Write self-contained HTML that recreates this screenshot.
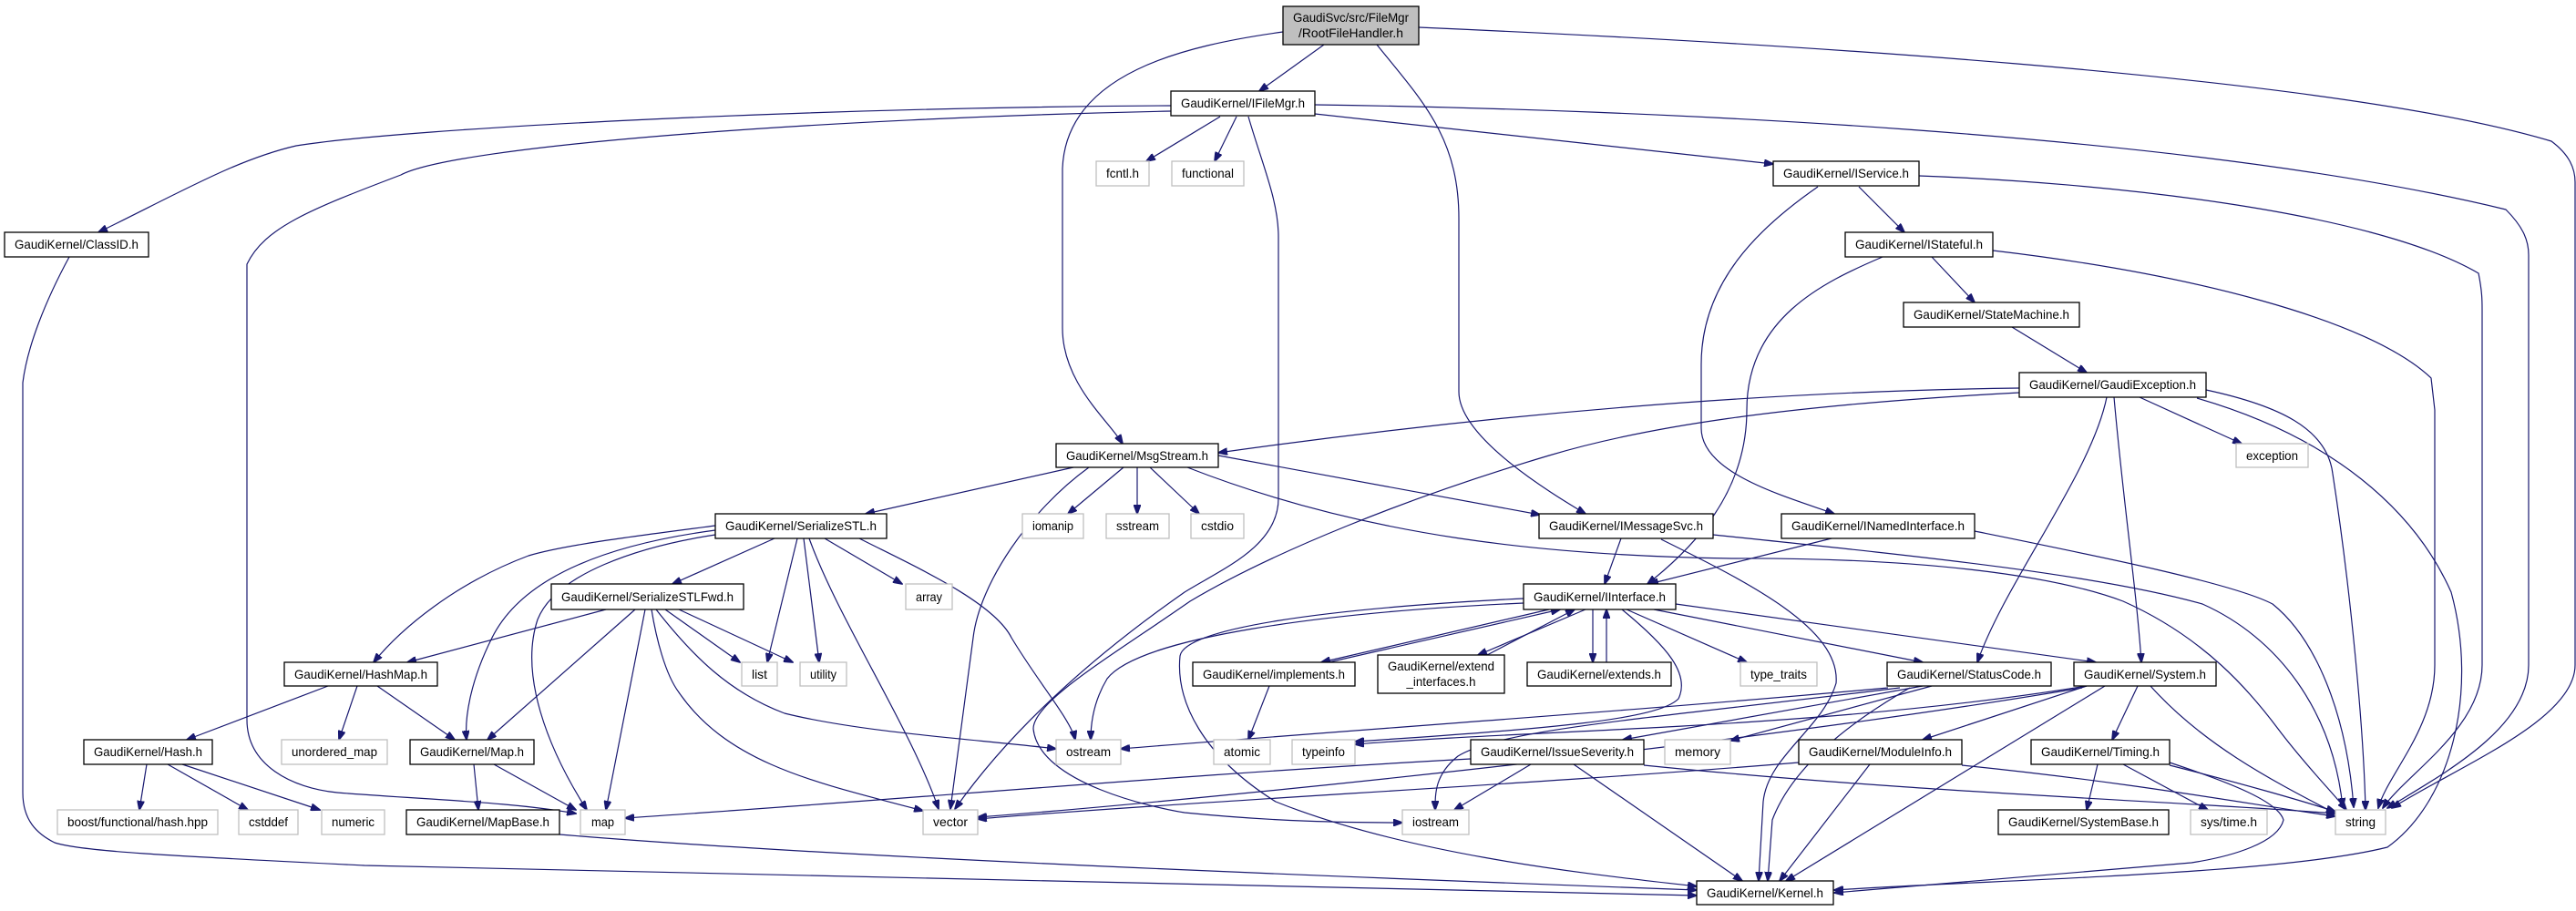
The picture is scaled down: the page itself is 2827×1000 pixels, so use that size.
<!DOCTYPE html>
<html><head><meta charset="utf-8"><style>
html,body{margin:0;padding:0;background:#fff;}
svg{display:block;}
text{font-family:"Liberation Sans",Arial,sans-serif;font-size:14px;fill:#000;}
.e{fill:none;stroke:#191970;stroke-width:1.2;marker-end:url(#a);}
.n{fill:#fff;stroke:#000;stroke-width:1.3;}
.g{fill:#fff;stroke:#bfbfbf;stroke-width:1.3;}
</style></head><body>
<svg width="2827" height="1000" viewBox="0 0 2827 1000" xmlns="http://www.w3.org/2000/svg">
<defs><marker id="a" markerUnits="userSpaceOnUse" markerWidth="11" markerHeight="8" refX="10" refY="4" orient="auto"><path d="M0,0 L11,4 L0,8 z" fill="#191970" stroke="#191970"/></marker></defs>
<g>
<path class="e" d="M1453,49 L1382,100"/>
<path class="e" d="M1408,35 C1300,50 1170,80 1166,185 L1166,360 C1166,420 1215,460 1232,487"/>
<path class="e" d="M1511,49 C1560,110 1601,150 1601,240 L1601,430 C1601,480 1700,540 1740,564"/>
<path class="e" d="M1557,30 C1900,45 2550,80 2800,155 C2820,170 2826,185 2826,200 L2826,730 C2826,790 2700,840 2625,887"/>
<path class="e" d="M1443,115 C1800,120 2400,145 2750,230 C2770,250 2775,265 2775,280 L2775,730 C2775,800 2680,850 2620,887"/>
<path class="e" d="M2106,193 C2300,200 2600,230 2720,300 C2724,320 2724,330 2724,340 L2724,730 C2724,800 2640,850 2615,887"/>
<path class="e" d="M2187,275 C2400,300 2600,350 2668,415 L2672,450 L2672,730 C2672,800 2620,850 2610,887"/>
<path class="e" d="M1285,116 C900,118 450,140 325,160 C260,175 200,210 108,255"/>
<path class="e" d="M1285,122 C900,130 500,160 440,192 C340,230 290,250 271,290 L271,790 C271,840 320,865 370,870 C470,878 560,880 632,893"/>
<path class="e" d="M1339,128 L1258,177"/>
<path class="e" d="M1357,128 L1333,177"/>
<path class="e" d="M1370,128 C1385,180 1403,220 1403,260 L1403,547 C1403,600 1340,625 1300,650 C1200,720 1110,800 1048,888"/>
<path class="e" d="M1443,125 L1946,180"/>
<path class="e" d="M2040,205 L2090,255"/>
<path class="e" d="M1995,205 C1930,250 1867,310 1867,400 L1867,470 C1867,520 1960,545 2013,564"/>
<path class="e" d="M2066,282 C2000,310 1917,350 1917,450 C1917,540 1860,600 1808,641"/>
<path class="e" d="M2120,282 L2167,332"/>
<path class="e" d="M2208,359 L2290,409"/>
<path class="e" d="M2216,426 C1900,430 1600,460 1337,497"/>
<path class="e" d="M2216,431 C1950,445 1800,470 1700,500 C1542,547 1395,607 1306,660 C1220,720 1134,770 1134,800 C1140,860 1268,887 1300,892 C1400,902 1480,903 1539,903"/>
<path class="e" d="M2348,436 L2460,487"/>
<path class="e" d="M2312,436 C2295,520 2200,640 2170,727"/>
<path class="e" d="M2320,436 C2330,550 2345,650 2350,727"/>
<path class="e" d="M2421,428 C2500,445 2554,470 2560,520 C2580,650 2594,800 2596,889"/>
<path class="e" d="M2411,437 C2560,480 2650,560 2690,650 C2720,760 2690,880 2620,930 C2500,960 2200,965 2013,977"/>
<path class="e" d="M1337,500 L1690,565"/>
<path class="e" d="M1303,513 C1500,590 1700,610 1900,613 C2100,612 2250,630 2330,660 C2420,700 2470,760 2500,800 C2530,840 2560,870 2575,889"/>
<path class="e" d="M1178,513 L950,564"/>
<path class="e" d="M1195,513 C1130,560 1075,640 1068,700 L1043,888"/>
<path class="e" d="M1233,513 L1172,564"/>
<path class="e" d="M1248,513 L1248,564"/>
<path class="e" d="M1262,513 L1316,564"/>
<path class="e" d="M785,577 C700,588 620,598 580,610 C500,640 440,690 410,727"/>
<path class="e" d="M785,582 C650,600 570,640 540,700 C515,750 510,790 512,812"/>
<path class="e" d="M785,587 C700,600 610,630 590,680 C570,740 600,820 644,889"/>
<path class="e" d="M850,591 L738,641"/>
<path class="e" d="M875,591 L842,727"/>
<path class="e" d="M882,591 L899,727"/>
<path class="e" d="M888,591 C920,680 1000,800 1030,888"/>
<path class="e" d="M905,591 L990,641"/>
<path class="e" d="M943,591 C1000,620 1090,660 1110,700 C1140,750 1175,790 1180,812"/>
<path class="e" d="M665,669 L447,727"/>
<path class="e" d="M697,669 L535,812"/>
<path class="e" d="M708,669 L665,889"/>
<path class="e" d="M730,669 L812,727"/>
<path class="e" d="M745,669 L870,727"/>
<path class="e" d="M715,669 C720,700 730,740 745,760 C800,840 900,860 1013,890"/>
<path class="e" d="M720,669 C760,720 800,760 861,783 C950,805 1080,812 1159,822"/>
<path class="e" d="M360,753 L205,812"/>
<path class="e" d="M392,753 L372,812"/>
<path class="e" d="M414,753 L499,812"/>
<path class="e" d="M161,839 L153,889"/>
<path class="e" d="M184,839 L272,889"/>
<path class="e" d="M200,839 L351,889"/>
<path class="e" d="M520,839 L525,889"/>
<path class="e" d="M542,839 L632,889"/>
<path class="e" d="M614,916 C900,940 1400,960 1862,977"/>
<path class="e" d="M76,282 C50,330 30,380 25,420 L25,870 C25,900 40,915 60,925 C90,935 200,940 400,950 L1862,983"/>
<path class="e" d="M1779,591 L1761,641"/>
<path class="e" d="M1880,587 C2100,610 2300,630 2417,663 C2500,700 2560,780 2571,886"/>
<path class="e" d="M1823,592 C1920,640 2020,690 2015,750 C2000,800 1940,830 1935,880 L1930,967"/>
<path class="e" d="M2010,591 L1810,641"/>
<path class="e" d="M2167,583 C2300,610 2450,640 2494,663 C2540,700 2575,780 2583,886"/>
<path class="e" d="M1672,662 C1450,672 1250,700 1215,745 C1200,770 1197,795 1197,812"/>
<path class="e" d="M1672,657 C1450,668 1300,690 1295,720 C1290,770 1320,830 1400,880 C1550,940 1750,960 1862,973"/>
<path class="e" d="M1700,669 L1450,727"/>
<path class="e" d="M1458,727 L1712,669"/>
<path class="e" d="M1740,669 L1622,719"/>
<path class="e" d="M1632,719 L1728,669"/>
<path class="e" d="M1748,669 L1748,727"/>
<path class="e" d="M1763,727 L1763,669"/>
<path class="e" d="M1785,669 L1917,727"/>
<path class="e" d="M1815,669 L2110,727"/>
<path class="e" d="M1839,663 L2300,727"/>
<path class="e" d="M1780,669 C1830,710 1855,740 1842,767 C1820,790 1700,800 1487,814"/>
<path class="e" d="M1393,753 L1370,812"/>
<path class="e" d="M2072,755 C1800,780 1500,800 1230,822"/>
<path class="e" d="M2110,753 L1781,812"/>
<path class="e" d="M2096,755 C2000,810 1960,860 1945,900 L1940,967"/>
<path class="e" d="M2085,755 C1800,790 1650,800 1600,830 C1575,850 1575,870 1575,889"/>
<path class="e" d="M2120,753 L1899,813"/>
<path class="e" d="M2310,753 L1960,967"/>
<path class="e" d="M2360,753 C2420,820 2500,860 2563,893"/>
<path class="e" d="M2290,753 L2110,812"/>
<path class="e" d="M2346,753 L2318,812"/>
<path class="e" d="M2290,753 C2000,800 1700,800 1487,817"/>
<path class="e" d="M2285,755 C1900,820 1300,880 1073,897"/>
<path class="e" d="M1614,833 C1300,850 1000,877 686,898"/>
<path class="e" d="M1680,839 L1596,889"/>
<path class="e" d="M1727,839 L1912,967"/>
<path class="e" d="M1804,840 C2100,870 2400,880 2563,893"/>
<path class="e" d="M2052,839 L1953,967"/>
<path class="e" d="M2153,840 C2350,860 2480,885 2563,896"/>
<path class="e" d="M1974,837 C1700,860 1300,880 1073,899"/>
<path class="e" d="M2302,839 L2290,889"/>
<path class="e" d="M2330,839 L2423,889"/>
<path class="e" d="M2381,837 C2450,860 2500,880 2506,900 C2500,925 2450,940 2405,947 C2250,960 2100,972 2013,980"/>
<path class="e" d="M2381,840 C2460,860 2530,880 2563,891"/>
</g>
<g>
<rect x="1408" y="7" width="149" height="42" fill="#bfbfbf" stroke="#000" stroke-width="1.3"/>
<text x="1482.5" y="24" text-anchor="middle" textLength="127" lengthAdjust="spacingAndGlyphs">GaudiSvc/src/FileMgr</text>
<text x="1482.5" y="41" text-anchor="middle" textLength="115" lengthAdjust="spacingAndGlyphs">/RootFileHandler.h</text>

<rect class="n" x="1285" y="100" width="158" height="27"/><text x="1364" y="118" text-anchor="middle" textLength="136" lengthAdjust="spacingAndGlyphs">GaudiKernel/IFileMgr.h</text>
<rect class="g" x="1203" y="177" width="58" height="27"/><text x="1232" y="195" text-anchor="middle" textLength="36" lengthAdjust="spacingAndGlyphs">fcntl.h</text>
<rect class="g" x="1286" y="177" width="79" height="27"/><text x="1325.5" y="195" text-anchor="middle" textLength="57" lengthAdjust="spacingAndGlyphs">functional</text>
<rect class="n" x="1946" y="177" width="160" height="27"/><text x="2026" y="195" text-anchor="middle" textLength="138" lengthAdjust="spacingAndGlyphs">GaudiKernel/IService.h</text>
<rect class="n" x="5" y="255" width="158" height="27"/><text x="84" y="273" text-anchor="middle" textLength="136" lengthAdjust="spacingAndGlyphs">GaudiKernel/ClassID.h</text>
<rect class="n" x="2025" y="255" width="162" height="27"/><text x="2106" y="273" text-anchor="middle" textLength="140" lengthAdjust="spacingAndGlyphs">GaudiKernel/IStateful.h</text>
<rect class="n" x="2089" y="332" width="193" height="27"/><text x="2185.5" y="350" text-anchor="middle" textLength="171" lengthAdjust="spacingAndGlyphs">GaudiKernel/StateMachine.h</text>
<rect class="n" x="2216" y="409" width="205" height="27"/><text x="2318.5" y="427" text-anchor="middle" textLength="183" lengthAdjust="spacingAndGlyphs">GaudiKernel/GaudiException.h</text>
<rect class="n" x="1159" y="487" width="178" height="26"/><text x="1248" y="505" text-anchor="middle" textLength="156" lengthAdjust="spacingAndGlyphs">GaudiKernel/MsgStream.h</text>
<rect class="g" x="2454" y="487" width="79" height="26"/><text x="2493.5" y="505" text-anchor="middle" textLength="57" lengthAdjust="spacingAndGlyphs">exception</text>
<rect class="g" x="1122" y="564" width="67" height="27"/><text x="1155.5" y="582" text-anchor="middle" textLength="45" lengthAdjust="spacingAndGlyphs">iomanip</text>
<rect class="g" x="1214" y="564" width="69" height="27"/><text x="1248.5" y="582" text-anchor="middle" textLength="47" lengthAdjust="spacingAndGlyphs">sstream</text>
<rect class="g" x="1307" y="564" width="58" height="27"/><text x="1336" y="582" text-anchor="middle" textLength="36" lengthAdjust="spacingAndGlyphs">cstdio</text>
<rect class="n" x="785" y="564" width="188" height="27"/><text x="879" y="582" text-anchor="middle" textLength="166" lengthAdjust="spacingAndGlyphs">GaudiKernel/SerializeSTL.h</text>
<rect class="n" x="1689" y="564" width="191" height="27"/><text x="1784.5" y="582" text-anchor="middle" textLength="169" lengthAdjust="spacingAndGlyphs">GaudiKernel/IMessageSvc.h</text>
<rect class="n" x="1955" y="564" width="212" height="27"/><text x="2061" y="582" text-anchor="middle" textLength="190" lengthAdjust="spacingAndGlyphs">GaudiKernel/INamedInterface.h</text>
<rect class="g" x="994" y="641" width="51" height="28"/><text x="1019.5" y="660" text-anchor="middle" textLength="29" lengthAdjust="spacingAndGlyphs">array</text>
<rect class="n" x="605" y="641" width="211" height="28"/><text x="710.5" y="660" text-anchor="middle" textLength="189" lengthAdjust="spacingAndGlyphs">GaudiKernel/SerializeSTLFwd.h</text>
<rect class="n" x="1672" y="641" width="167" height="28"/><text x="1755.5" y="660" text-anchor="middle" textLength="145" lengthAdjust="spacingAndGlyphs">GaudiKernel/IInterface.h</text>
<rect class="n" x="312" y="727" width="168" height="26"/><text x="396" y="745" text-anchor="middle" textLength="146" lengthAdjust="spacingAndGlyphs">GaudiKernel/HashMap.h</text>
<rect class="g" x="814" y="727" width="39" height="26"/><text x="833.5" y="745" text-anchor="middle" textLength="17" lengthAdjust="spacingAndGlyphs">list</text>
<rect class="g" x="878" y="727" width="51" height="26"/><text x="903.5" y="745" text-anchor="middle" textLength="29" lengthAdjust="spacingAndGlyphs">utility</text>
<rect class="n" x="1309" y="727" width="178" height="26"/><text x="1398" y="745" text-anchor="middle" textLength="156" lengthAdjust="spacingAndGlyphs">GaudiKernel/implements.h</text>
<rect class="n" x="1512" y="719" width="139" height="42"/><text x="1581.5" y="736" text-anchor="middle" textLength="117" lengthAdjust="spacingAndGlyphs">GaudiKernel/extend</text><text x="1581.5" y="753" text-anchor="middle" textLength="76" lengthAdjust="spacingAndGlyphs">_interfaces.h</text>
<rect class="n" x="1676" y="727" width="158" height="26"/><text x="1755" y="745" text-anchor="middle" textLength="136" lengthAdjust="spacingAndGlyphs">GaudiKernel/extends.h</text>
<rect class="g" x="1910" y="727" width="84" height="26"/><text x="1952" y="745" text-anchor="middle" textLength="62" lengthAdjust="spacingAndGlyphs">type_traits</text>
<rect class="n" x="2071" y="727" width="180" height="26"/><text x="2161" y="745" text-anchor="middle" textLength="158" lengthAdjust="spacingAndGlyphs">GaudiKernel/StatusCode.h</text>
<rect class="n" x="2276" y="727" width="156" height="26"/><text x="2354" y="745" text-anchor="middle" textLength="134" lengthAdjust="spacingAndGlyphs">GaudiKernel/System.h</text>
<rect class="n" x="92" y="812" width="141" height="27"/><text x="162.5" y="830" text-anchor="middle" textLength="119" lengthAdjust="spacingAndGlyphs">GaudiKernel/Hash.h</text>
<rect class="g" x="309" y="812" width="116" height="27"/><text x="367" y="830" text-anchor="middle" textLength="94" lengthAdjust="spacingAndGlyphs">unordered_map</text>
<rect class="n" x="450" y="812" width="136" height="27"/><text x="518" y="830" text-anchor="middle" textLength="114" lengthAdjust="spacingAndGlyphs">GaudiKernel/Map.h</text>
<rect class="g" x="1159" y="812" width="71" height="27"/><text x="1194.5" y="830" text-anchor="middle" textLength="49" lengthAdjust="spacingAndGlyphs">ostream</text>
<rect class="g" x="1332" y="812" width="62" height="27"/><text x="1363" y="830" text-anchor="middle" textLength="40" lengthAdjust="spacingAndGlyphs">atomic</text>
<rect class="g" x="1418" y="812" width="69" height="27"/><text x="1452.5" y="830" text-anchor="middle" textLength="47" lengthAdjust="spacingAndGlyphs">typeinfo</text>
<rect class="n" x="1614" y="812" width="190" height="27"/><text x="1709" y="830" text-anchor="middle" textLength="168" lengthAdjust="spacingAndGlyphs">GaudiKernel/IssueSeverity.h</text>
<rect class="g" x="1827" y="812" width="72" height="27"/><text x="1863" y="830" text-anchor="middle" textLength="50" lengthAdjust="spacingAndGlyphs">memory</text>
<rect class="n" x="1974" y="812" width="179" height="27"/><text x="2063.5" y="830" text-anchor="middle" textLength="157" lengthAdjust="spacingAndGlyphs">GaudiKernel/ModuleInfo.h</text>
<rect class="n" x="2229" y="812" width="152" height="27"/><text x="2305" y="830" text-anchor="middle" textLength="130" lengthAdjust="spacingAndGlyphs">GaudiKernel/Timing.h</text>
<rect class="g" x="63" y="889" width="176" height="27"/><text x="151" y="907" text-anchor="middle" textLength="154" lengthAdjust="spacingAndGlyphs">boost/functional/hash.hpp</text>
<rect class="g" x="262" y="889" width="65" height="27"/><text x="294.5" y="907" text-anchor="middle" textLength="43" lengthAdjust="spacingAndGlyphs">cstddef</text>
<rect class="g" x="353" y="889" width="69" height="27"/><text x="387.5" y="907" text-anchor="middle" textLength="47" lengthAdjust="spacingAndGlyphs">numeric</text>
<rect class="n" x="446" y="889" width="168" height="27"/><text x="530" y="907" text-anchor="middle" textLength="146" lengthAdjust="spacingAndGlyphs">GaudiKernel/MapBase.h</text>
<rect class="g" x="637" y="889" width="49" height="27"/><text x="661.5" y="907" text-anchor="middle" textLength="25" lengthAdjust="spacingAndGlyphs">map</text>
<rect class="g" x="1013" y="889" width="60" height="27"/><text x="1043" y="907" text-anchor="middle" textLength="38" lengthAdjust="spacingAndGlyphs">vector</text>
<rect class="g" x="1539" y="889" width="73" height="27"/><text x="1575.5" y="907" text-anchor="middle" textLength="51" lengthAdjust="spacingAndGlyphs">iostream</text>
<rect class="n" x="2193" y="889" width="187" height="27"/><text x="2286.5" y="907" text-anchor="middle" textLength="165" lengthAdjust="spacingAndGlyphs">GaudiKernel/SystemBase.h</text>
<rect class="g" x="2404" y="889" width="84" height="27"/><text x="2446" y="907" text-anchor="middle" textLength="62" lengthAdjust="spacingAndGlyphs">sys/time.h</text>
<rect class="g" x="2563" y="889" width="55" height="27"/><text x="2590.5" y="907" text-anchor="middle" textLength="33" lengthAdjust="spacingAndGlyphs">string</text>
<rect class="n" x="1862" y="967" width="150" height="26"/><text x="1937" y="985" text-anchor="middle" textLength="128" lengthAdjust="spacingAndGlyphs">GaudiKernel/Kernel.h</text>
</g>
</svg>
</body></html>
